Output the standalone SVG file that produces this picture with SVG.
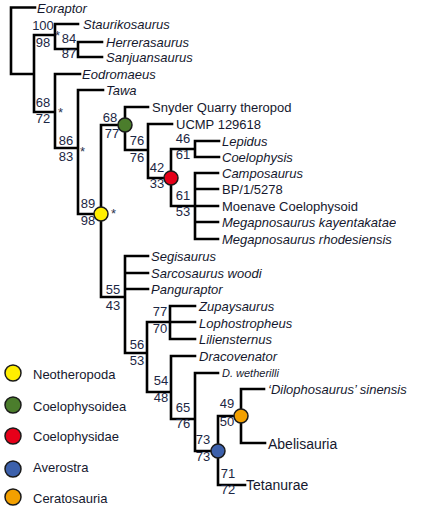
<svg xmlns="http://www.w3.org/2000/svg" width="425" height="517" viewBox="0 0 425 517">
<style>
text{font-family:"Liberation Sans",Arial,sans-serif;font-size:13px;fill:#15182e}
.i{font-style:italic}
.n{fill:#1c2744;text-anchor:middle}
.a{fill:#2a3350;font-size:13px}
.br{fill:none;stroke:#000;stroke-width:2.6;stroke-linecap:square}
.c{stroke:#1a1a1a;stroke-width:1.5}
.y{fill:#ffee00}.g{fill:#4b7d2c}.r{fill:#e60019}.b{fill:#3c60ab}.o{fill:#f3a000}
</style>
<defs><clipPath id="clipR"><rect x="0" y="0" width="396" height="517"/></clipPath></defs>
<g id="connectors">
<path class="br" d="M11,7.5V74M11,7.5H35M11,74H34M34,35V112M34,35H55M55,24V49M55,24H78M55,49H78M78,42V57M78,42H102M78,57H102M34,112H55M55,74V148M55,74H80M55,148H78M78,90V214M78,90H103M78,214H101M101,125V297M101,125H125M125,107V150M125,107H148M125,150H148M148,124V178M148,124H172M148,178H171M171,149V206M171,149H195M195,141V157M195,141H219M195,157H219M171,206H218M195,173V239M195,173H218M195,189H218M195,222H218M195,239H218M101,297H125M125,256V353M125,256H148M125,273H148M125,289H148M125,353H147M147,322V392M147,322H170M170,306V339M170,306H195M170,322H195M170,339H195M147,392H171M171,356V419M171,356H195M171,419H195M195,373V451M195,373H218M195,451H218M218,416V485M218,416H241M241,389V443M241,389H264M241,443H265M218,485H245"/>
</g>
<g id="tips">
<text class="i" x="37" y="12.5">Eoraptor</text>
<text class="i" x="83" y="29">Staurikosaurus</text>
<text class="i" x="106" y="47">Herrerasaurus</text>
<text class="i" x="106" y="62">Sanjuansaurus</text>
<text class="i" x="82" y="79">Eodromaeus</text>
<text class="i" x="106" y="95">Tawa</text>
<text x="152" y="112">Snyder Quarry theropod</text>
<text x="176" y="128.5">UCMP 129618</text>
<text class="i" x="222" y="146">Lepidus</text>
<text class="i" x="222" y="162">Coelophysis</text>
<text class="i" x="222" y="178">Camposaurus</text>
<text x="222" y="194">BP/1/5278</text>
<text x="222" y="211">Moenave Coelophysoid</text>
<text class="i" x="222" y="227" clip-path="url(#clipR)">Megapnosaurus kayentakatae</text>
<text class="i" x="222" y="244" clip-path="url(#clipR)">Megapnosaurus rhodesiensis</text>
<text class="i" x="151" y="261">Segisaurus</text>
<text class="i" x="151" y="278">Sarcosaurus woodi</text>
<text class="i" x="151" y="294">Panguraptor</text>
<text class="i" x="199" y="311">Zupaysaurus</text>
<text class="i" x="199" y="327.5">Lophostropheus</text>
<text class="i" x="199" y="344">Liliensternus</text>
<text class="i" x="199" y="361">Dracovenator</text>
<text class="i" x="222" y="377" style="font-size:11px">D. wetherilli</text>
<text class="i" x="268" y="394">‘Dilophosaurus’ sinensis</text>
<text x="268" y="448.5" style="font-size:14px">Abelisauria</text>
<text x="246" y="490" style="font-size:14px">Tetanurae</text>
</g>
<g id="node-staurikosaurus-clade"><text class="n" x="43" y="30">100</text><text class="n" x="43" y="47">98</text><text class="a" x="55" y="40">*</text></g>
<g id="node-herrerasauridae"><text class="n" x="69" y="43">84</text><text class="n" x="69" y="58">87</text></g>
<g id="node-eodromaeus-clade"><text class="n" x="43" y="107">68</text><text class="n" x="43" y="123">72</text><text class="a" x="58" y="117">*</text></g>
<g id="node-tawa-clade"><text class="n" x="66" y="145">86</text><text class="n" x="66" y="161">83</text><text class="a" x="80" y="156">*</text></g>
<g id="node-neotheropoda"><text class="n" x="88" y="208">89</text><text class="n" x="88" y="225">98</text><text class="a" x="111" y="218">*</text><circle class="c y" cx="101" cy="214" r="7"/></g>
<g id="node-coelophysoidea"><text class="n" x="110" y="122">68</text><text class="n" x="112" y="138">77</text><circle class="c g" cx="125" cy="125" r="7"/></g>
<g id="node-ucmp-clade"><text class="n" x="137" y="145">76</text><text class="n" x="137" y="162">76</text></g>
<g id="node-coelophysidae"><text class="n" x="157" y="172">42</text><text class="n" x="157" y="188">33</text><circle class="c r" cx="171" cy="178" r="7"/></g>
<g id="node-lepidus-clade"><text class="n" x="183" y="143">46</text><text class="n" x="183" y="159">61</text></g>
<g id="node-camposaurus-clade"><text class="n" x="183" y="200">61</text><text class="n" x="183" y="216">53</text></g>
<g id="node-segisaurus-clade"><text class="n" x="113" y="294">55</text><text class="n" x="113" y="310">43</text></g>
<g id="node-56"><text class="n" x="137" y="349">56</text><text class="n" x="137" y="365">53</text></g>
<g id="node-zupaysaurus-clade"><text class="n" x="160" y="316">77</text><text class="n" x="160" y="333">70</text></g>
<g id="node-54"><text class="n" x="161" y="385">54</text><text class="n" x="161" y="402">48</text></g>
<g id="node-65"><text class="n" x="183" y="412">65</text><text class="n" x="183" y="428">76</text></g>
<g id="node-averostra"><text class="n" x="203" y="444">73</text><text class="n" x="203" y="461">73</text><circle class="c b" cx="218" cy="451" r="7"/></g>
<g id="node-ceratosauria"><text class="n" x="227" y="408">49</text><text class="n" x="227" y="426">50</text><circle class="c o" cx="241" cy="416" r="7"/></g>
<g id="node-tetanurae-branch"><text class="n" x="228" y="478">71</text><text class="n" x="228" y="494">72</text></g>
<g id="legend">
<circle class="c y" cx="13" cy="373" r="8"/><text x="33" y="378.5">Neotheropoda</text>
<circle class="c g" cx="13" cy="405" r="8"/><text x="33" y="410.5">Coelophysoidea</text>
<circle class="c r" cx="13" cy="436" r="8"/><text x="33" y="441">Coelophysidae</text>
<circle class="c b" cx="13" cy="469" r="8"/><text x="33" y="472">Averostra</text>
<circle class="c o" cx="13" cy="497" r="8"/><text x="33" y="502.5">Ceratosauria</text>
</g>
</svg>
